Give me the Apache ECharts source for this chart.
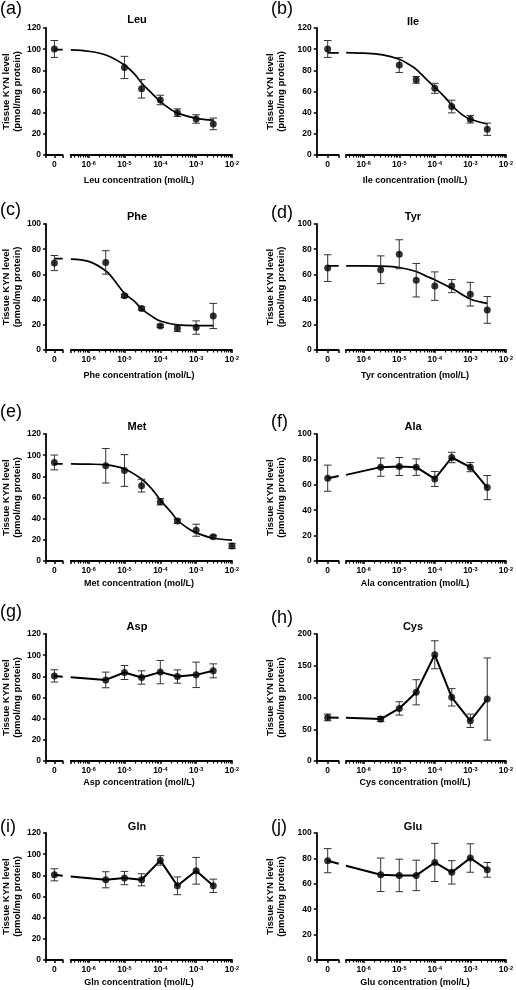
<!DOCTYPE html>
<html><head><meta charset="utf-8">
<script src="https://cdn.jsdelivr.net/npm/echarts@6/dist/echarts.min.js"></script>
<style>html,body{margin:0;padding:0;background:#fff}#c{width:516px;height:990px}</style>
</head><body><div id="c"></div>
<script>
// ---------- DATA ----------
const tickExponents = [-6, -5, -4, -3, -2];
const concX = [3e-6, 1e-5, 3e-5, 1e-4, 3e-4, 1e-3, 3e-3];

// (a) Leu
const leuX = [1e-5, 3e-5, 1e-4, 3e-4, 1e-3, 3e-3];
const leuY = [82.7, 62.5, 52, 40, 34, 29.4];
const leuErr = [10.5, 8.7, 4.5, 3.6, 4, 5.5];
const leuCtrl = [100.2, 8];
const leuFitZero = 99.5;
const leuFitX = [3.2e-7, 1e-6, 3.16e-6, 1e-5, 2e-5, 3e-5, 6e-5, 1e-4, 2e-4, 3e-4, 1e-3, 3e-3];
const leuFitY = [99.3, 98, 94.3, 85, 75.7, 68, 57.8, 50.5, 42.9, 39.6, 34.6, 32.9];

// (b) Ile
const ileX = [1e-5, 3e-5, 1e-4, 3e-4, 1e-3, 3e-3];
const ileY = [85, 71, 63, 45.8, 33.8, 24.3];
const ileErr = [7, 3.2, 4.7, 6, 3.6, 5.8];
const ileCtrl = [100.2, 8];
const ileFitZero = 96.5;
const ileFitX = [3.2e-7, 1e-6, 3.16e-6, 1e-5, 2e-5, 3e-5, 6e-5, 1e-4, 2e-4, 3e-4, 6e-4, 1e-3, 3e-3];
const ileFitY = [96.8, 96.2, 94.8, 90.5, 85, 81, 71, 64, 54, 47, 37.9, 33.8, 29.3];

// (c) Phe
const pheX = concX;
const pheY = [69.5, 43, 33, 19, 17.2, 17.8, 27];
const pheErr = [9.3, 1.2, 1.2, 1, 2.6, 5.3, 10];
const pheCtrl = [69, 6];
const pheFitZero = 72.5;
const pheFitX = [3.2e-7, 1e-6, 3.16e-6, 6e-6, 1e-5, 2e-5, 3e-5, 6e-5, 1e-4, 3e-4, 1e-3, 3e-3];
const pheFitY = [72.2, 70.3, 62.3, 53, 45, 38, 32.6, 26.5, 23, 19.9, 19.4, 19.4];

// (d) Tyr
const tyrX = concX;
const tyrY = [63.7, 76, 55.4, 50.7, 50.7, 44.3, 31.8];
const tyrErr = [11, 11.5, 13.3, 11.3, 5.2, 9.4, 10.6];
const tyrCtrl = [65, 10.6];
const tyrFitZero = 66.8;
const tyrFitX = [3.2e-7, 1e-6, 3.16e-6, 1e-5, 3e-5, 6e-5, 1e-4, 3e-4, 1e-3, 3e-3];
const tyrFitY = [66.8, 66.8, 66.6, 65.5, 62.3, 58.4, 55.7, 49, 40.5, 37];

// (e) Met
const metX = [3e-6, 1e-5, 3e-5, 1e-4, 3e-4, 1e-3, 3e-3, 1e-2];
const metY = [90, 85.5, 71.2, 56, 37.7, 29.1, 22.8, 14.2];
const metErr = [16.3, 15, 6, 3, 2, 5.7, 1.5, 2.5];
const metCtrl = [93.1, 7];
const metFitZero = 91.8;
const metFitX = [3.2e-7, 1e-6, 3.16e-6, 1e-5, 3e-5, 6e-5, 1e-4, 2e-4, 3e-4, 6e-4, 1e-3, 3e-3, 1e-2];
const metFitY = [91.8, 91.5, 90.8, 87, 77.5, 67.5, 57.6, 46, 38.5, 30.7, 26.6, 21.5, 19.8];

// (f) Ala
const alaY = [73.9, 74.4, 73.9, 64.6, 81.5, 73.9, 57.8];
const alaErr = [7.2, 7.1, 6.5, 5.9, 4.1, 3.6, 9.5];
const alaCtrl = [65.2, 10.3];
const alaBreak = [67, 67.8];   // line level at end of "0" segment / start of log segment

// (g) Asp
const aspY = [76.6, 83.6, 78.9, 84, 79.8, 81.4, 85.2];
const aspErr = [7.4, 6.6, 6.3, 11, 6.3, 12, 6.6];
const aspCtrl = [80.4, 5.8];
const aspBreak = [79.6, 79.2];

// (h) Cys
const cysY = [66, 82.8, 108.2, 167.3, 100.3, 63.3, 97.6];
const cysErr = [4, 10.5, 19.8, 22, 13.7, 10.5, 64.7];
const cysCtrl = [68.6, 5.3];
const cysBreak = [68.3, 68];

// (i) Gln
const glnY = [75.8, 77.4, 75.8, 94.1, 70.1, 84.3, 70.1];
const glnErr = [7.6, 6.3, 5.7, 4.5, 8.4, 12.6, 6.3];
const glnCtrl = [80.5, 5.7];
const glnBreak = [79.5, 79];

// (j) Glu
const gluY = [67.1, 66.6, 66.6, 76.8, 69, 80.3, 71];
const gluErr = [13.2, 12.8, 12, 15, 9.2, 11.2, 5.8];
const gluCtrl = [78.2, 9.5];
const gluBreak = [75.8, 74.2];

const panelLabels = ['(a)','(b)','(c)','(d)','(e)','(f)','(g)','(h)','(i)','(j)'];
const panelNames = ['Leu','Ile','Phe','Tyr','Met','Ala','Asp','Cys','Gln','Glu'];
const yMaxes = [120, 120, 100, 100, 120, 100, 120, 200, 120, 100];
const ySteps = [20, 20, 20, 20, 20, 20, 20, 50, 20, 20];
const yAxisTitle = 'Tissue KYN level\n(pmol/mg protein)';

// ---------- LAYOUT ----------
const FONT = '"Liberation Sans", Arial, Helvetica, sans-serif';
const LOG_MIN = Math.pow(10, -6.5), LOG_MAX = 1e-2;
const cols = [
  {axis: 40.7, zeroEnd: 62.7, logStart: 70.7, logEnd: 232, titleX: 137, labelX: 0, nameX: 139, nameGap: 20},
  {axis: 316.7, zeroEnd: 338.7, logStart: 346, logEnd: 507.3, titleX: 413, labelX: 271, nameX: 415, nameGap: 30}
];
const rows = [
  {top: 28, bottom: 155, nameY: 180.5},
  {top: 224, bottom: 350, nameY: 376},
  {top: 434, bottom: 561, nameY: 584},
  {top: 634, bottom: 761, nameY: 783},
  {top: 833, bottom: 960, nameY: 983}
];
const titleYs = [19.5, 21.5, 217, 217, 427, 427, 627, 627, 827, 827];
const labelYs = [9, 9, 210, 213, 412, 422, 612, 618, 827, 827];

const zip = (xs, ys) => xs.map((x, i) => [x, ys[i]]);
const zip3 = (xs, ys, es) => xs.map((x, i) => [x, ys[i], es[i]]);

const panels = [
  {x: leuX, y: leuY, err: leuErr, ctrl: leuCtrl, zeroLine: [leuFitZero, leuFitZero], logLine: zip(leuFitX, leuFitY), smooth: true},
  {x: ileX, y: ileY, err: ileErr, ctrl: ileCtrl, zeroLine: [ileFitZero, ileFitZero], logLine: zip(ileFitX, ileFitY), smooth: true},
  {x: pheX, y: pheY, err: pheErr, ctrl: pheCtrl, zeroLine: [pheFitZero, pheFitZero], logLine: zip(pheFitX, pheFitY), smooth: true},
  {x: tyrX, y: tyrY, err: tyrErr, ctrl: tyrCtrl, zeroLine: [tyrFitZero, tyrFitZero], logLine: zip(tyrFitX, tyrFitY), smooth: true},
  {x: metX, y: metY, err: metErr, ctrl: metCtrl, zeroLine: [metFitZero, metFitZero], logLine: zip(metFitX, metFitY), smooth: true},
  {x: concX, y: alaY, err: alaErr, ctrl: alaCtrl, zeroLine: [alaCtrl[0], alaBreak[0]], logLine: [[LOG_MIN, alaBreak[1]]].concat(zip(concX, alaY)), smooth: false},
  {x: concX, y: aspY, err: aspErr, ctrl: aspCtrl, zeroLine: [aspCtrl[0], aspBreak[0]], logLine: [[LOG_MIN, aspBreak[1]]].concat(zip(concX, aspY)), smooth: false},
  {x: concX, y: cysY, err: cysErr, ctrl: cysCtrl, zeroLine: [cysCtrl[0], cysBreak[0]], logLine: [[LOG_MIN, cysBreak[1]]].concat(zip(concX, cysY)), smooth: false},
  {x: concX, y: glnY, err: glnErr, ctrl: glnCtrl, zeroLine: [glnCtrl[0], glnBreak[0]], logLine: [[LOG_MIN, glnBreak[1]]].concat(zip(concX, glnY)), smooth: false},
  {x: concX, y: gluY, err: gluErr, ctrl: gluCtrl, zeroLine: [gluCtrl[0], gluBreak[0]], logLine: [[LOG_MIN, gluBreak[1]]].concat(zip(concX, gluY)), smooth: false}
];

function renderErr(params, api) {
  const x = api.value(0), m = api.value(1), e = api.value(2);
  const t = api.coord([x, m + e]), b = api.coord([x, m - e]);
  const hw = 3.8;
  const st = {stroke: '#333', lineWidth: 1};
  return {type: 'group', children: [
    {type: 'line', shape: {x1: t[0], y1: t[1], x2: b[0], y2: b[1]}, style: st},
    {type: 'line', shape: {x1: t[0] - hw, y1: t[1], x2: t[0] + hw, y2: t[1]}, style: st},
    {type: 'line', shape: {x1: b[0] - hw, y1: b[1], x2: b[0] + hw, y2: b[1]}, style: st}
  ]};
}

const grid = [], xAxis = [], yAxis = [], series = [], graphic = [];
const axisLine = {show: true, onZero: false, lineStyle: {color: '#000', width: 1.8}};
const axisTick = {show: true, length: 3, lineStyle: {color: '#000', width: 1.5}};
const lblStyle = {color: '#000', fontSize: 8.5, fontWeight: 'bold', fontFamily: FONT};

panels.forEach((p, i) => {
  const c = cols[i % 2], r = rows[Math.floor(i / 2)];
  const h = r.bottom - r.top;
  const gz = 2 * i, gl = 2 * i + 1;
  grid.push({left: c.axis, top: r.top, width: c.zeroEnd - c.axis, height: h});
  grid.push({left: c.logStart, top: r.top, width: c.logEnd - c.logStart, height: h});
  xAxis.push({type: 'value', gridIndex: gz, min: -1, max: 1, interval: 1,
    axisLine, axisTick, splitLine: {show: false},
    axisLabel: Object.assign({margin: 5, formatter: v => (v === 0 ? '0' : '')}, lblStyle)});
  xAxis.push({type: 'log', logBase: 10, gridIndex: gl, min: LOG_MIN, max: LOG_MAX,
    axisLine, axisTick, splitLine: {show: false},
    minorTick: {show: true, splitNumber: 9, length: 2.5, lineStyle: {color: '#000', width: 1.2}},
    minorSplitLine: {show: false},
    axisLabel: {margin: 5, showMinLabel: true, showMaxLabel: true, hideOverlap: false,
      formatter: v => {
        const e = Math.log10(v), rr = Math.round(e);
        if (Math.abs(e - rr) > 1e-6 || tickExponents.indexOf(rr) < 0) return '';
        return '{b|10}{s|' + rr + '}';
      },
      rich: {
        b: {fontSize: 8.5, fontWeight: 'bold', fontFamily: FONT, color: '#000', lineHeight: 10},
        s: {fontSize: 5.5, fontWeight: 'bold', fontFamily: FONT, color: '#000', lineHeight: 10, verticalAlign: 'top'}
      }}});
  yAxis.push({type: 'value', gridIndex: gz, min: 0, max: yMaxes[i], interval: ySteps[i],
    axisLine, axisTick, splitLine: {show: false},
    axisLabel: Object.assign({margin: 5}, lblStyle),
    name: yAxisTitle, nameLocation: 'middle', nameGap: c.nameGap,
    nameTextStyle: {color: '#000', fontSize: 9.5, fontWeight: 'bold', fontFamily: FONT, lineHeight: 11}});
  yAxis.push({type: 'value', gridIndex: gl, min: 0, max: yMaxes[i], show: false, splitLine: {show: false}});

  const lineStyle = {color: '#000', width: p.smooth ? 1.7 : 2};
  series.push({type: 'line', xAxisIndex: gz, yAxisIndex: gz, data: [[0, p.zeroLine[0]], [1, p.zeroLine[1]]],
    showSymbol: false, symbol: 'none', lineStyle, silent: true, z: 2});
  series.push({type: 'custom', xAxisIndex: gz, yAxisIndex: gz, renderItem: renderErr,
    data: [[0, p.ctrl[0], p.ctrl[1]]], encode: {x: 0, y: 1}, z: 3, silent: true});
  series.push({type: 'scatter', xAxisIndex: gz, yAxisIndex: gz, data: [[0, p.ctrl[0]]],
    symbol: 'circle', symbolSize: 7, itemStyle: {color: '#000'}, z: 4, silent: true});

  series.push({type: 'line', xAxisIndex: gl, yAxisIndex: gl, data: p.logLine, smooth: p.smooth ? 0.35 : false,
    showSymbol: false, symbol: 'none', lineStyle, silent: true, z: 2});
  series.push({type: 'custom', xAxisIndex: gl, yAxisIndex: gl, renderItem: renderErr,
    data: zip3(p.x, p.y, p.err), encode: {x: 0, y: 1}, z: 3, silent: true});
  series.push({type: 'scatter', xAxisIndex: gl, yAxisIndex: gl, data: zip(p.x, p.y),
    symbol: 'circle', symbolSize: 7, itemStyle: {color: '#000'}, z: 4, silent: true});

  graphic.push({type: 'text', x: c.titleX, y: titleYs[i], style: {text: panelNames[i], fill: '#000',
    font: 'bold 11px ' + FONT, align: 'center', verticalAlign: 'middle', textAlign: 'center', textVerticalAlign: 'middle'}});
  graphic.push({type: 'text', x: c.labelX, y: labelYs[i], style: {text: panelLabels[i], fill: '#000',
    font: '18px ' + FONT, align: 'left', verticalAlign: 'middle', textAlign: 'left', textVerticalAlign: 'middle'}});
  graphic.push({type: 'text', x: c.nameX, y: r.nameY, style: {text: panelNames[i] + ' concentration (mol/L)', fill: '#000',
    font: 'bold 9px ' + FONT, align: 'center', verticalAlign: 'middle', textAlign: 'center', textVerticalAlign: 'middle'}});
});

const chart = echarts.init(document.getElementById('c'), null, {renderer: 'canvas'});
chart.setOption({animation: false, backgroundColor: '#fff', grid, xAxis, yAxis, series, graphic});
</script></body></html>
